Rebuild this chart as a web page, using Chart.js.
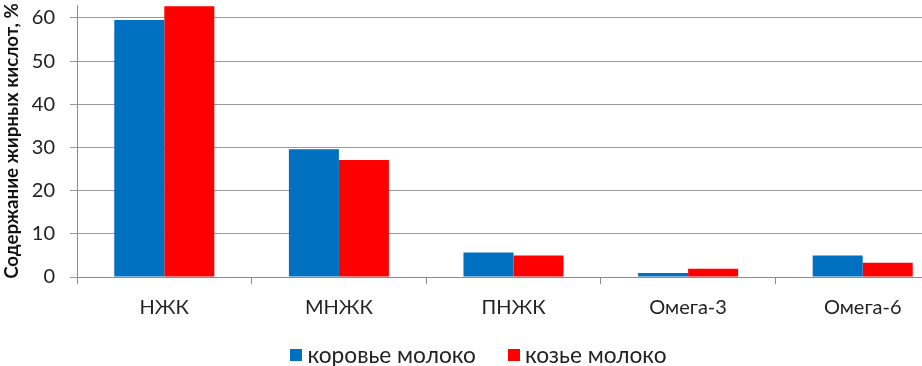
<!DOCTYPE html>
<html lang="ru">
<head>
  <meta charset="UTF-8">
  <title>Содержание жирных кислот</title>
  <script src="https://cdn.jsdelivr.net/npm/chart.js"></script>
  <style>
        html, body {
            margin: 0;
            padding: 0;
            background: #ffffff;
            overflow: hidden;
            width: 922px;
            height: 366px;
            position: relative;
        }

        #wrap {
            position: absolute;
            left: 0;
            top: -22px;
            width: 950px;
            height: 400px;
        }

        #legend {
            position: absolute;
            left: 0;
            top: 341px;
            width: 957px;
            display: flex;
            justify-content: center;
            font-family: Lato, "Open Sans", sans-serif;
            font-size: 22.7px;
            line-height: 28px;
            color: #222;
        }

        #legend .item {
            display: flex;
            align-items: center;
            margin: 0 16px;
        }

        #legend .box {
            width: 12px;
            height: 12px;
            margin-right: 5px;
        }
    </style>
</head>
<body>
<div id="wrap">
  <canvas id="fatChart"></canvas>
</div>
<div id="legend"></div>
<script>
    const categories = ['НЖК', 'МНЖК', 'ПНЖК', 'Омега-3', 'Омега-6'];
    const cowMilk = [59.5, 29.6, 5.7, 0.9, 5.0];
    const goatMilk = [62.7, 27.1, 5.0, 1.9, 3.3];
    const seriesNames = ['коровье молоко', 'козье молоко'];
    const seriesColors = ['#0070c0', '#ff0000'];
    const yTicks = [0, 10, 20, 30, 40, 50, 60];

    const fontFamily = 'Lato, "Open Sans", sans-serif';

    const ctx = document.getElementById('fatChart').getContext('2d');
    const chart = new Chart(ctx, {
        type: 'bar',
        data: {
            labels: categories,
            datasets: [{
                label: seriesNames[0],
                data: cowMilk,
                backgroundColor: seriesColors[0],
                categoryPercentage: 0.573,
                barPercentage: 1.0
            }, {
                label: seriesNames[1],
                data: goatMilk,
                backgroundColor: seriesColors[1],
                categoryPercentage: 0.573,
                barPercentage: 1.0
            }]
        },
        options: {
            responsive: true,
            maintainAspectRatio: false,
            animation: false,
            layout: {
                padding: { left: 0, right: 0, top: 0, bottom: 46 }
            },
            plugins: {
                legend: { display: false },
                tooltip: { enabled: false }
            },
            scales: {
                x: {
                    grid: {
                        offset: true,
                        drawOnChartArea: false,
                        color: '#8c8c8c',
                        tickLength: 7
                    },
                    border: { color: '#8c8c8c' },
                    ticks: {
                        color: '#222',
                        padding: 12,
                        font: { family: fontFamily, size: 20 }
                    }
                },
                y: {
                    min: 0,
                    max: 63,
                    afterBuildTicks: (scale) => {
                        scale.ticks = yTicks.map(v => ({ value: v }));
                    },
                    afterFit: (scale) => {
                        scale.width = 77;
                    },
                    grid: {
                        color: '#9a9a9a',
                        tickLength: 7
                    },
                    border: { color: '#8c8c8c' },
                    ticks: {
                        color: '#222',
                        padding: 15,
                        font: { family: fontFamily, size: 20 }
                    },
                    title: {
                        display: true,
                        text: 'Содержание жирных кислот, %',
                        color: '#111',
                        padding: { top: 1, bottom: 0 },
                        font: { family: fontFamily, size: 18.7, weight: 'bold' }
                    }
                }
            }
        }
    });

    // simple html legend built from the series
    const legendEl = document.getElementById('legend');
    seriesNames.forEach((name, i) => {
        const item = document.createElement('div');
        item.className = 'item';
        const box = document.createElement('span');
        box.className = 'box';
        box.style.background = seriesColors[i];
        const text = document.createElement('span');
        text.textContent = name;
        item.appendChild(box);
        item.appendChild(text);
        legendEl.appendChild(item);
    });
</script>
</body>
</html>
